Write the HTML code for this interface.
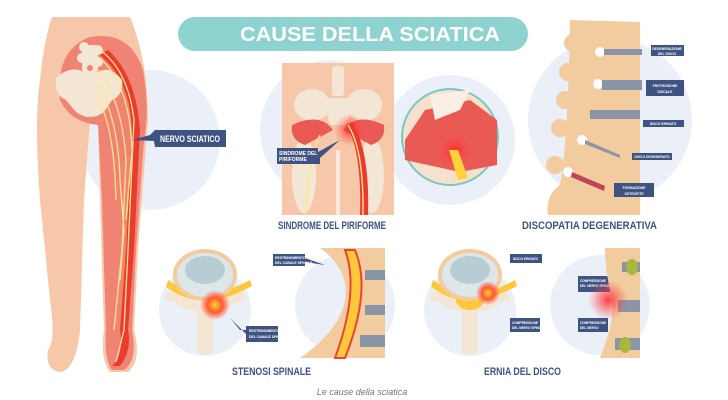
<!DOCTYPE html>
<html><head><meta charset="utf-8"><style>
html,body{margin:0;padding:0;background:#fff}
svg{display:block}
text{font-family:"Liberation Sans",sans-serif}
</style></head><body>
<svg width="728" height="400" viewBox="0 0 728 400" xmlns="http://www.w3.org/2000/svg">
<defs>
<radialGradient id="glow"><stop offset="0" stop-color="#ff2a2a" stop-opacity=".9"/><stop offset="1" stop-color="#ff4a4a" stop-opacity="0"/></radialGradient>
<radialGradient id="glowy"><stop offset="0" stop-color="#ffd23a"/><stop offset=".5" stop-color="#ff5a2a"/><stop offset="1" stop-color="#ff4a4a" stop-opacity="0"/></radialGradient>
</defs>
<rect width="728" height="400" fill="#fff"/>
<!-- background circles -->
<circle cx="150" cy="140" r="70" fill="#ebf0f8"/>
<circle cx="330" cy="130" r="70" fill="#ebf0f8"/>
<circle cx="450" cy="140" r="65" fill="#ebf0f8"/>
<circle cx="610" cy="120" r="82" fill="#ebf0f8"/>
<circle cx="205" cy="310" r="46" fill="#ebf0f8"/>
<circle cx="345" cy="305" r="50" fill="#ebf0f8"/>
<circle cx="470" cy="310" r="46" fill="#ebf0f8"/>
<circle cx="600" cy="305" r="50" fill="#ebf0f8"/>

<!-- title -->
<rect x="178" y="17" width="350" height="34" rx="17" fill="#8fd3d0"/>
<text x="240" y="41" font-size="20" font-weight="bold" fill="#fff" textLength="260" lengthAdjust="spacingAndGlyphs">CAUSE DELLA SCIATICA</text>

<!-- left figure -->
<path d="M52 17 L130 17 Q148 60 148 120 L138 250 L134 330 Q142 360 128 372 L110 372 Q100 360 104 330 L100 200 L98 120 Q93 116 90 120 L84 200 L80 330 Q76 370 60 372 Q45 370 48 350 Q56 340 50 300 L40 200 Q34 120 40 80 Q44 40 52 17 Z" fill="#f6c7a9"/>
<path d="M90 37 Q130 30 143 70 Q150 110 144 140 L136 250 L132 330 Q138 360 124 370 L112 370 Q104 360 106 330 L102 200 L98 125 Q70 122 60 100 Q55 50 90 37 Z" fill="#f08474"/>
<path d="M100 55 Q130 80 132 130 L126 250 L120 330 Q124 355 112 366 L120 366 Q132 350 128 330 L134 250 L140 130 Q136 75 108 50 Z" fill="#e93b2f"/>
<g fill="#f4e6d4">
<rect x="82" y="45" width="16" height="28" rx="4"/>
<circle cx="84" cy="47" r="5"/><circle cx="98" cy="50" r="5"/><circle cx="82" cy="58" r="5"/><circle cx="98" cy="62" r="5"/>
<path d="M56 78 Q70 65 84 72 L98 72 Q110 65 122 80 Q124 95 112 100 L104 112 Q90 122 76 112 L66 100 Q54 95 56 78 Z"/>
</g>
<circle cx="90" cy="68" r="3" fill="#f08474"/>
<g stroke="#ffe68a" stroke-width="1.3" fill="none">
<path d="M100 50 Q128 70 134 120 L128 250 L124 330 L116 362"/>
<path d="M100 58 Q130 85 132 150 L126 220"/>
<path d="M98 70 Q122 100 126 160 L122 250 L114 330"/>
<path d="M96 82 Q118 115 120 180 L124 230 L120 280"/>
<path d="M95 95 Q114 120 116 200"/>
</g>
<path d="M132 140 L150 135 L155 130 L226 130 L226 147 L155 147 L154 141 Z" fill="#3f5383"/>
<text x="160" y="142" font-size="9" font-weight="bold" fill="#fff" textLength="60" lengthAdjust="spacingAndGlyphs">NERVO SCIATICO</text>

<!-- middle piriformis -->
<path d="M282 63 L394 63 L394 215 L282 215 Z" fill="#f6c7a9"/>
<rect x="336" y="150" width="4" height="65" fill="#fff" opacity=".6"/>
<g fill="#f4e6d4">
<ellipse cx="312" cy="105" rx="18" ry="16"/><ellipse cx="364" cy="105" rx="18" ry="16"/>
<path d="M322 98 L354 98 L346 125 L330 125 Z"/>
<rect x="332" y="66" width="12" height="30" rx="3"/>
<ellipse cx="304" cy="175" rx="12" ry="38"/><ellipse cx="372" cy="175" rx="12" ry="38"/>
</g>
<path d="M292 125 Q320 112 333 130 L305 145 Q290 140 292 125 Z" fill="#e95a55"/>
<path d="M384 125 Q356 112 343 130 L371 145 Q386 140 384 125 Z" fill="#e95a55"/>
<circle cx="350" cy="130" r="16" fill="url(#glow)"/>
<path d="M346 125 Q362 150 360 215 L368 215 Q370 150 352 122 Z" fill="#e93b2f"/>
<path d="M348 125 Q364 150 363 215" stroke="#ffe68a" stroke-width="1.4" fill="none"/>
<path d="M320 135 Q308 160 306 215" stroke="#ffe68a" stroke-width="1.4" fill="none"/>
<path d="M277 148 L318 148 L318 152 L340 140 L320 158 L320 164 L277 164 Z" fill="#3f5383"/>
<text x="279" y="155" font-size="5" font-weight="bold" fill="#fff">SINDROME DEL</text>
<text x="279" y="161" font-size="5" font-weight="bold" fill="#fff">PIRIFORME</text>
<text x="278" y="229" font-size="11" font-weight="bold" fill="#3f5383" textLength="108" lengthAdjust="spacingAndGlyphs">SINDROME DEL PIRIFORME</text>
<!-- zoom circle -->
<circle cx="450" cy="137" r="48" fill="#f6e1cf" stroke="#79c7be" stroke-width="2"/>
<path d="M405 140 L425 110 L470 100 L497 120 L497 165 L460 172 L405 160 Z" fill="#e95a55"/>
<path d="M430 95 L470 90 L460 110 L435 120 Z" fill="#fbeee6"/>
<circle cx="455" cy="150" r="18" fill="url(#glow)"/>
<path d="M449 150 L458 150 L468 178 L458 180 Z" fill="#ffd23a"/>

<!-- right spine -->
<path d="M570 20 L640 22 L640 215 L548 215 Q545 195 560 185 Q568 140 570 20 Z" fill="#f2cc9f"/>
<g fill="#f2cc9f">
<circle cx="573" cy="43" r="9"/><circle cx="568" cy="72" r="9"/><circle cx="565" cy="100" r="9"/><circle cx="560" cy="128" r="9"/><circle cx="555" cy="165" r="9"/>
</g>
<g fill="#fff"><circle cx="600" cy="52" r="5"/><circle cx="598" cy="84" r="5"/><circle cx="582" cy="140" r="5"/><circle cx="568" cy="172" r="5"/></g>
<g fill="#8b95a8">
<rect x="604" y="49" width="38" height="6"/><rect x="602" y="80" width="40" height="10"/><rect x="590" y="110" width="50" height="9"/>
<path d="M585 140 L620 155 L620 158 L585 144 Z"/>
<path d="M572 172 L605 186 L604 191 L571 177 Z" fill="#c0455a"/>
</g>
<g fill="#3f5383">
<rect x="651" y="45" width="33" height="11"/><rect x="646" y="80" width="38" height="16"/><rect x="643" y="120" width="41" height="7"/><rect x="632" y="153" width="40" height="7"/><rect x="614" y="183" width="40" height="14"/>
</g>
<g fill="#fff" font-size="3.4" font-weight="bold" text-anchor="middle">
<text x="667" y="50">DEGENERAZIONE</text><text x="667" y="55">DEL DISCO</text>
<text x="665" y="87">PROTRUSIONE</text><text x="665" y="93">DISCALE</text>
<text x="663" y="125">DISCO ERNIATO</text><text x="652" y="158">DISCO DEGENERATO</text>
<text x="634" y="189">FORMAZIONE</text><text x="634" y="195">OSTEOFITE</text>
</g>
<text x="522" y="229" font-size="11" font-weight="bold" fill="#3f5383" textLength="135" lengthAdjust="spacingAndGlyphs">DISCOPATIA DEGENERATIVA</text>

<!-- stenosi -->
<g fill="#f4e6d4">
<ellipse cx="205" cy="300" rx="30" ry="12"/><rect x="197" y="300" width="16" height="55" rx="6"/>
<rect x="165" y="292" width="80" height="10" rx="5"/>
</g>
<path d="M168 280 Q190 295 205 292 Q222 295 250 280 L252 286 Q222 302 205 300 Q188 302 166 287 Z" fill="#ffc83a"/>
<ellipse cx="205" cy="275" rx="30" ry="24" fill="#dde7ea" stroke="#f2cc9f" stroke-width="4"/>
<ellipse cx="205" cy="270" rx="20" ry="14" fill="#b8ccd4"/>
<circle cx="215" cy="305" r="15" fill="url(#glowy)"/>
<path d="M230 318 L240 330 L246 330 L246 326 L278 326 L278 342 L246 342 L246 334 Z" fill="#3f5383"/>
<text x="249" y="332" font-size="3.4" font-weight="bold" fill="#fff">RESTRINGIMENTO</text>
<text x="249" y="338" font-size="3.4" font-weight="bold" fill="#fff">DEL CANALE SPINALE</text>
<path d="M320 248 L385 248 L385 358 L300 358 Q340 330 345 300 Q350 270 320 248 Z" fill="#f2cc9f"/>
<path d="M355 250 Q372 290 345 358 L335 358 Q360 290 345 250 Z" fill="#ffc83a" stroke="#e9462f" stroke-width="2"/>
<g fill="#8b95a8"><rect x="365" y="270" width="20" height="10"/><rect x="365" y="305" width="20" height="10"/><rect x="360" y="335" width="25" height="12"/></g>
<path d="M273 254 L305 254 L305 258 L325 265 L305 262 L305 266 L273 266 Z" fill="#3f5383"/>
<text x="275" y="259" font-size="3.4" font-weight="bold" fill="#fff">RESTRINGIMENTO</text>
<text x="275" y="264" font-size="3.4" font-weight="bold" fill="#fff">DEL CANALE SPINALE</text>
<text x="232" y="375" font-size="11" font-weight="bold" fill="#3f5383" textLength="79" lengthAdjust="spacingAndGlyphs">STENOSI SPINALE</text>

<!-- ernia -->
<g fill="#f4e6d4">
<ellipse cx="470" cy="300" rx="30" ry="12"/><rect x="462" y="300" width="16" height="55" rx="6"/>
<rect x="430" y="292" width="80" height="10" rx="5"/>
</g>
<path d="M433 280 Q455 295 470 292 Q487 295 515 280 L517 286 Q487 302 470 300 Q453 302 431 287 Z" fill="#ffc83a"/>
<ellipse cx="470" cy="300" rx="14" ry="10" fill="#ffc83a"/>
<ellipse cx="470" cy="275" rx="30" ry="24" fill="#dde7ea" stroke="#f2cc9f" stroke-width="4"/>
<ellipse cx="470" cy="270" rx="20" ry="14" fill="#b8ccd4"/>
<circle cx="488" cy="293" r="12" fill="url(#glowy)"/>
<g fill="#3f5383">
<rect x="510" y="254" width="32" height="9"/><rect x="510" y="318" width="30" height="14"/>
<rect x="578" y="276" width="32" height="16"/><rect x="578" y="318" width="30" height="14"/>
</g>
<g fill="#fff" font-size="3.2" font-weight="bold">
<text x="513" y="260">DISCO ERNIATO</text>
<text x="512" y="324">COMPRESSIONE</text><text x="512" y="329">DEL NERVO SPINALE</text>
<text x="580" y="282">COMPRESSIONE</text><text x="580" y="287">DEL NERVO SPINALE</text>
<text x="580" y="324">COMPRESSIONE</text><text x="580" y="329">DEL NERVO</text>
</g>
<path d="M605 248 L640 248 L640 358 L600 358 Q615 320 612 300 Q605 270 605 248 Z" fill="#f2cc9f"/>
<g fill="#8b95a8"><rect x="622" y="262" width="18" height="10"/><rect x="618" y="300" width="22" height="12"/><rect x="615" y="338" width="25" height="12"/></g>
<circle cx="608" cy="300" r="20" fill="url(#glow)"/>
<ellipse cx="632" cy="267" rx="6" ry="8" fill="#a8b83a"/><ellipse cx="625" cy="345" rx="6" ry="8" fill="#a8b83a"/>
<text x="484" y="375" font-size="11" font-weight="bold" fill="#3f5383" textLength="77" lengthAdjust="spacingAndGlyphs">ERNIA DEL DISCO</text>

<text x="362" y="395" text-anchor="middle" font-size="9" font-style="italic" fill="#777">Le cause della sciatica</text>
</svg>
</body></html>
